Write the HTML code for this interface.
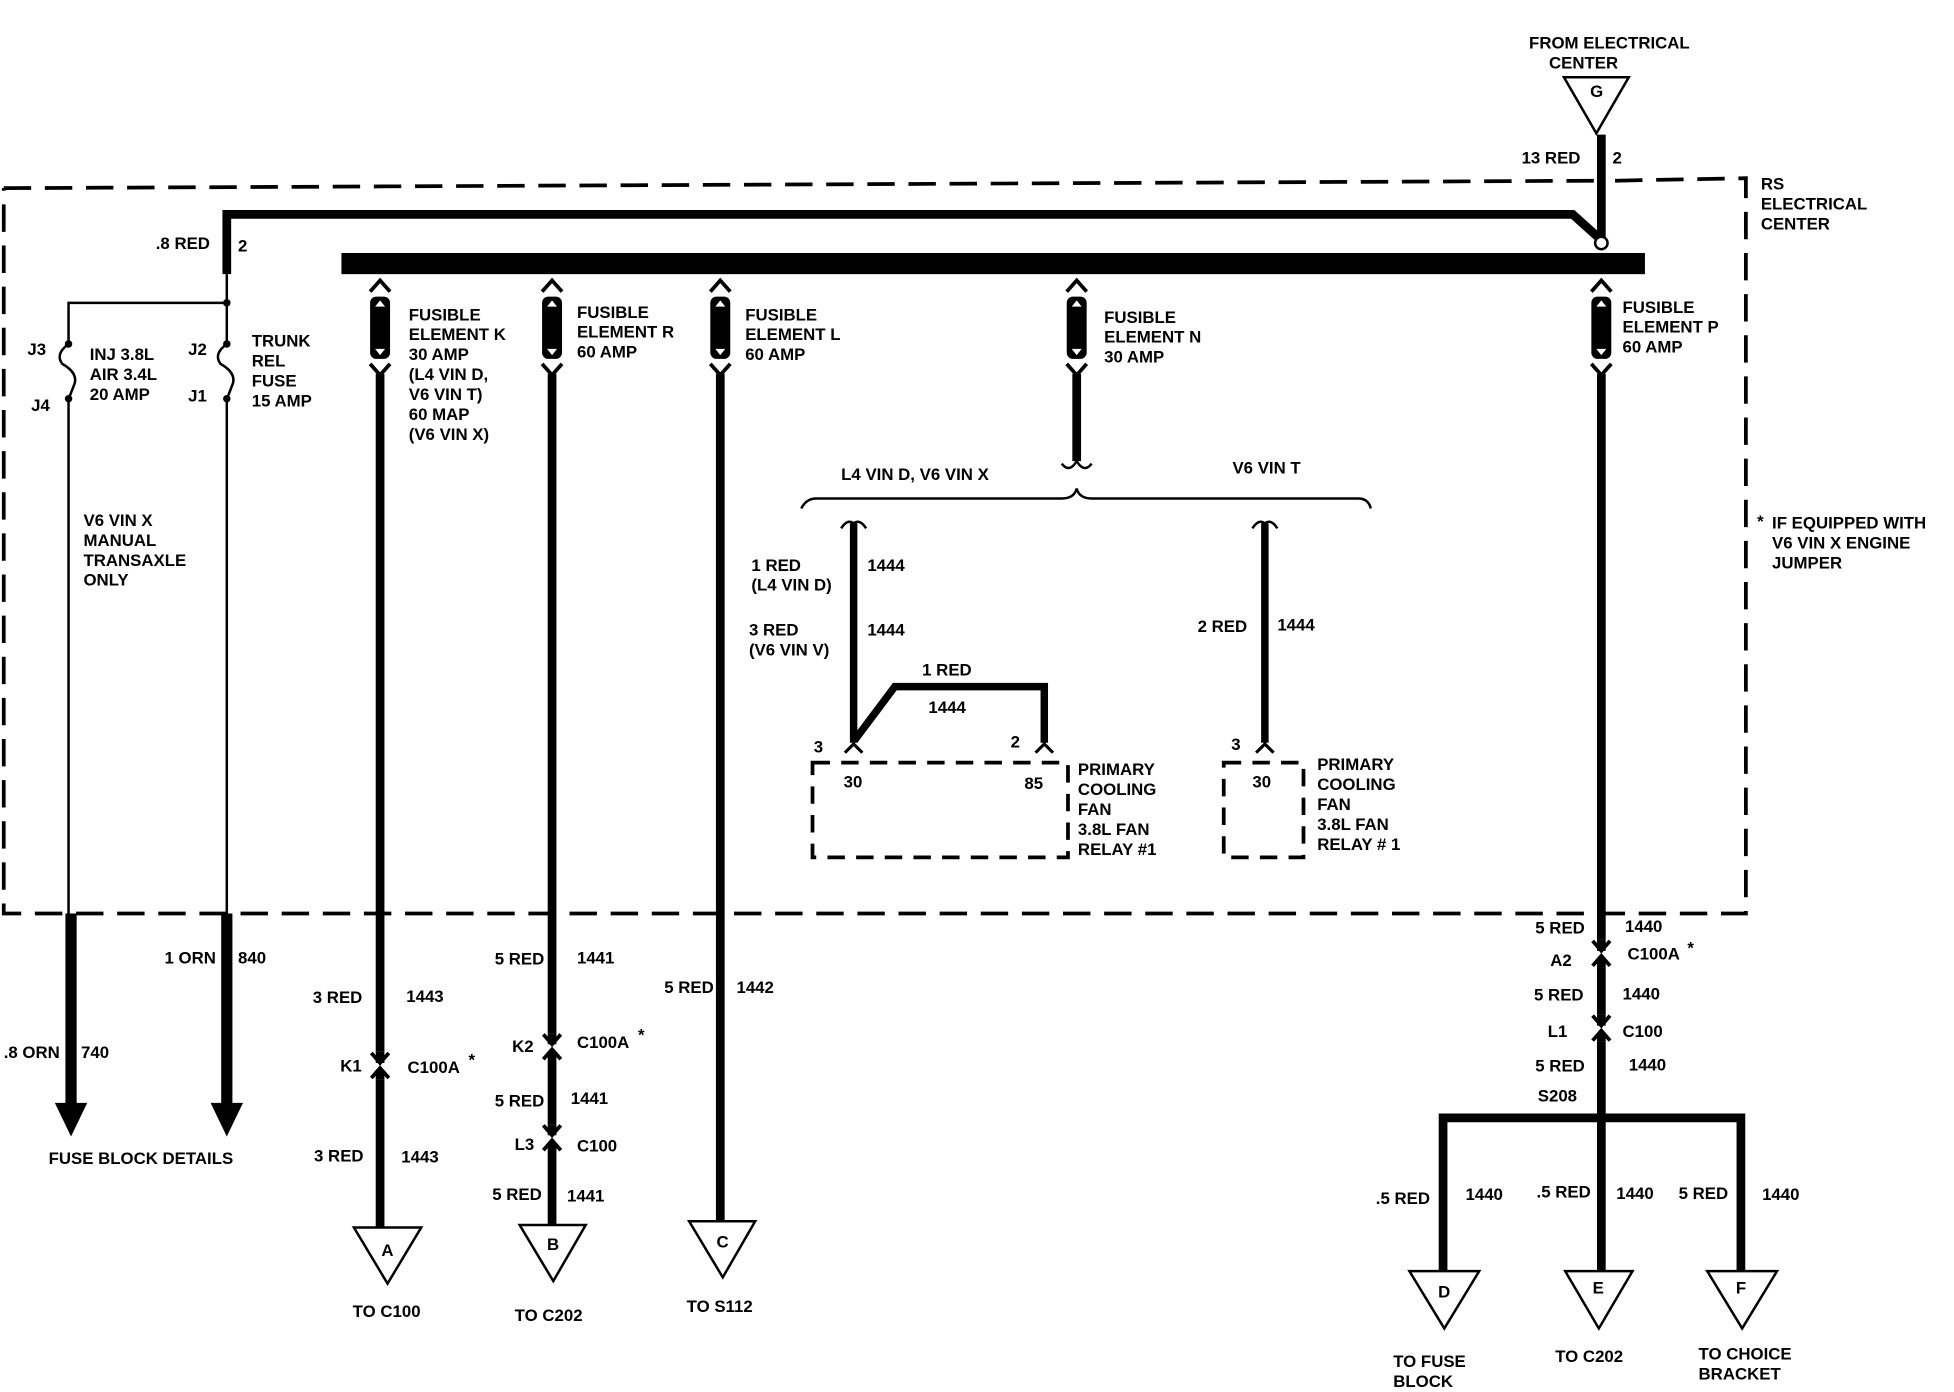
<!DOCTYPE html>
<html><head><meta charset="utf-8"><style>
html,body{margin:0;padding:0;background:#fff}
svg{display:block}
text{font-family:"Liberation Sans",Arial,sans-serif;font-weight:bold;font-size:13.5px;fill:#000}
</style></head><body>
<svg width="1954" height="1392" viewBox="0 0 1568 1117" preserveAspectRatio="none" xmlns="http://www.w3.org/2000/svg">
<defs>
<g id="fz">
<path d="M-8,12 L0,3 L8,12" fill="none" stroke="#000" stroke-width="3"/>
<rect x="-8" y="16" width="16" height="50" rx="5" fill="#000"/>
<path d="M-4,24 L0,19 L4,24Z M-4,58 L0,63 L4,58Z" fill="#fff"/>
<path d="M-8,70 L0,79 L8,70" fill="none" stroke="#000" stroke-width="3"/>
</g>
<g id="cn">
<rect x="-8" y="-9" width="16" height="22" fill="#fff"/>
<path d="M-7,-8 L0,0 L7,-8" fill="none" stroke="#000" stroke-width="3"/>
<path d="M0,-9 L0,0 M0,6 L0,13" stroke="#000" stroke-width="7"/>
<path d="M-7,12 L0,4 L7,12" fill="none" stroke="#000" stroke-width="3"/>
</g>
</defs>
<g stroke="#000" stroke-width="3" fill="none" stroke-dasharray="22,11">
<path d="M3,151 L1286,145"/><path d="M1296,145 L1401,143 L1401,733 L3,733 L3,151"/>
<path d="M652,612 L857,612 L857,688 L652,688 Z" stroke-dasharray="14,9"/>
<path d="M982,612 L1046,612 L1046,688 L982,688 Z" stroke-dasharray="14,9"/>
</g>
<g fill="#fff" stroke="#000" stroke-width="2">
<path d="M1255,62 L1307,62 L1281,107Z"/>
<path d="M284,985 L338,985 L311,1030Z"/>
<path d="M417,983 L470,983 L444,1028Z"/>
<path d="M553,980 L606,980 L580,1025Z"/>
<path d="M1131,1020 L1187,1020 L1159,1066Z"/>
<path d="M1256,1020 L1310,1020 L1283,1066Z"/>
<path d="M1370,1020 L1426,1020 L1398,1066Z"/>
</g>
<rect x="274" y="203" width="1046" height="17" fill="#000"/>
<g stroke="#000" fill="none">
<path d="M182,220 L182,172 L1262,172 L1282,190" stroke-width="7"/>
<path d="M1285,108 L1285,191" stroke-width="7"/>
<path d="M182,220 L182,276 M182,320 L182,733 M55,733 L55,320 M55,276 L55,243 L182,243" stroke-width="2"/>
<path d="M57,733 L57,888 M182,733 L182,888" stroke-width="9"/>
<path d="M305,300 L305,985 M443,300 L443,983 M578,300 L578,980 M864,300 L864,370 M1285,300 L1285,897" stroke-width="7"/>
<path d="M685,420 L685,595 L718,551 L838,551 L838,600 M1015,420 L1015,600" stroke-width="6"/>
<path d="M1158,1020 L1158,897 L1397,897 L1397,1020 M1285,897 L1285,1020" stroke-width="7"/>
<path d="M643,408 Q647,400 655,400 L852,400 Q862,400 864,392 Q866,400 876,400 L1090,400 Q1098,400 1100,408" stroke-width="2"/>
<path d="M852,372 Q858,380 864,370 Q870,380 876,372 M675,424 Q680,416 685,420 Q690,416 695,424 M1005,424 Q1010,416 1015,420 Q1020,416 1025,424" stroke-width="2"/>
<path d="M55,276 Q44,284 50,292 Q64,300 59,310 Q56,318 55,320 M182,276 Q171,284 177,292 Q191,300 186,310 Q183,318 182,320" stroke-width="2"/>
</g>
<circle cx="55" cy="276" r="3" fill="#000"/><circle cx="55" cy="320" r="3" fill="#000"/>
<circle cx="182" cy="276" r="3" fill="#000"/><circle cx="182" cy="320" r="3" fill="#000"/>
<circle cx="1285" cy="195" r="5" fill="#fff" stroke="#000" stroke-width="2"/>
<circle cx="182" cy="243" r="3" fill="#000"/>
<circle cx="1285" cy="897" r="5" fill="#000"/>
<path d="M44,885 L70,885 L57,912Z M169,885 L195,885 L182,912Z" fill="#000"/>
<g fill="#fff"><rect x="678" y="596" width="14" height="14"/><rect x="831" y="596" width="14" height="14"/><rect x="1008" y="596" width="14" height="14"/></g>
<path d="M678,604 L685,597 L692,604 M831,604 L838,597 L845,604 M1008,604 L1015,597 L1022,604" stroke="#000" stroke-width="2.5" fill="none"/>
<use href="#fz" x="305" y="222"/><use href="#fz" x="443" y="222"/><use href="#fz" x="578" y="222"/><use href="#fz" x="864" y="222"/><use href="#fz" x="1285" y="222"/>
<use href="#cn" x="305" y="853"/><use href="#cn" x="443" y="838"/><use href="#cn" x="443" y="911"/><use href="#cn" x="1285" y="763"/><use href="#cn" x="1285" y="823"/>
<text x="1227" y="39">FROM ELECTRICAL</text><text x="1243" y="55">CENTER</text>
<text x="1276" y="78" font-size="11">G</text>
<text x="1221" y="131">13 RED</text><text x="1294" y="131">2</text>
<text x="1413" y="152">RS</text><text x="1413" y="168">ELECTRICAL</text><text x="1413" y="184">CENTER</text>
<text x="125" y="200">.8 RED</text><text x="191" y="202">2</text>
<text x="22" y="285">J3</text><text x="25" y="330">J4</text><text x="151" y="285">J2</text><text x="151" y="322">J1</text>
<text x="72" y="289">INJ 3.8L</text><text x="72" y="305">AIR 3.4L</text><text x="72" y="321">20 AMP</text>
<text x="202" y="278">TRUNK</text><text x="202" y="294">REL</text><text x="202" y="310">FUSE</text><text x="202" y="326">15 AMP</text>
<text x="328" y="257">FUSIBLE</text><text x="328" y="273">ELEMENT K</text><text x="328" y="289">30 AMP</text><text x="328" y="305">(L4 VIN D,</text><text x="328" y="321">V6 VIN T)</text><text x="328" y="337">60 MAP</text><text x="328" y="353">(V6 VIN X)</text>
<text x="463" y="255">FUSIBLE</text><text x="463" y="271">ELEMENT R</text><text x="463" y="287">60 AMP</text>
<text x="598" y="257">FUSIBLE</text><text x="598" y="273">ELEMENT L</text><text x="598" y="289">60 AMP</text>
<text x="886" y="259">FUSIBLE</text><text x="886" y="275">ELEMENT N</text><text x="886" y="291">30 AMP</text>
<text x="1302" y="251">FUSIBLE</text><text x="1302" y="267">ELEMENT P</text><text x="1302" y="283">60 AMP</text>
<text x="675" y="385">L4 VIN D, V6 VIN X</text><text x="989" y="380">V6 VIN T</text>
<text x="1410" y="423" font-size="11">*</text><text x="1422" y="424">IF EQUIPPED WITH</text><text x="1422" y="440">V6 VIN X ENGINE</text><text x="1422" y="456">JUMPER</text>
<text x="67" y="422">V6 VIN X</text><text x="67" y="438">MANUAL</text><text x="67" y="454">TRANSAXLE</text><text x="67" y="470">ONLY</text>
<text x="603" y="458">1 RED</text><text x="603" y="474">(L4 VIN D)</text><text x="696" y="458">1444</text>
<text x="601" y="510">3 RED</text><text x="601" y="526">(V6 VIN V)</text><text x="696" y="510">1444</text>
<text x="740" y="542">1 RED</text><text x="745" y="572">1444</text>
<text x="961" y="507">2 RED</text><text x="1025" y="506">1444</text>
<text x="653" y="604">3</text><text x="811" y="600">2</text><text x="988" y="602">3</text>
<text x="677" y="632">30</text><text x="822" y="633">85</text><text x="1005" y="632">30</text>
<text x="865" y="622">PRIMARY</text><text x="865" y="638">COOLING</text><text x="865" y="654">FAN</text><text x="865" y="670">3.8L FAN</text><text x="865" y="686">RELAY #1</text>
<text x="1057" y="618">PRIMARY</text><text x="1057" y="634">COOLING</text><text x="1057" y="650">FAN</text><text x="1057" y="666">3.8L FAN</text><text x="1057" y="682">RELAY # 1</text>
<text x="132" y="773">1 ORN</text><text x="191" y="773">840</text>
<text x="3" y="849">.8 ORN</text><text x="65" y="849">740</text>
<text x="39" y="934">FUSE BLOCK DETAILS</text>
<text x="251" y="805">3 RED</text><text x="326" y="804">1443</text>
<text x="273" y="860">K1</text><text x="327" y="861">C100A</text><text x="376" y="855" font-size="10">*</text>
<text x="252" y="932">3 RED</text><text x="322" y="933">1443</text>
<text x="306" y="1008" font-size="11">A</text><text x="283" y="1057">TO C100</text>
<text x="397" y="774">5 RED</text><text x="463" y="773">1441</text>
<text x="411" y="844">K2</text><text x="463" y="841">C100A</text><text x="512" y="835" font-size="10">*</text>
<text x="397" y="888">5 RED</text><text x="458" y="886">1441</text>
<text x="413" y="923">L3</text><text x="463" y="924">C100</text>
<text x="395" y="963">5 RED</text><text x="455" y="964">1441</text>
<text x="439" y="1003" font-size="11">B</text><text x="413" y="1060">TO C202</text>
<text x="533" y="797">5 RED</text><text x="591" y="797">1442</text>
<text x="575" y="1001" font-size="11">C</text><text x="551" y="1053">TO S112</text>
<text x="1232" y="749">5 RED</text><text x="1304" y="748">1440</text>
<text x="1244" y="775">A2</text><text x="1306" y="770">C100A</text><text x="1354" y="765" font-size="10">*</text>
<text x="1231" y="803">5 RED</text><text x="1302" y="802">1440</text>
<text x="1242" y="832">L1</text><text x="1302" y="832">C100</text>
<text x="1232" y="860">5 RED</text><text x="1307" y="859">1440</text>
<text x="1234" y="884">S208</text>
<text x="1104" y="966">.5 RED</text><text x="1176" y="963">1440</text>
<text x="1233" y="961">.5 RED</text><text x="1297" y="962">1440</text>
<text x="1347" y="962">5 RED</text><text x="1414" y="963">1440</text>
<text x="1154" y="1041" font-size="10">D</text><text x="1278" y="1038" font-size="11">E</text><text x="1393" y="1038" font-size="11">F</text>
<text x="1118" y="1097">TO FUSE</text><text x="1118" y="1113">BLOCK</text>
<text x="1248" y="1093">TO C202</text>
<text x="1363" y="1091">TO CHOICE</text><text x="1363" y="1107">BRACKET</text>
</svg>
</body></html>
